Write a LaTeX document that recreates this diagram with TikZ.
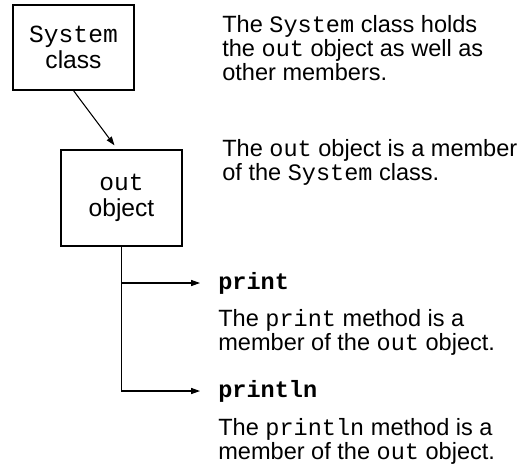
\documentclass[tikz,border=0pt]{standalone}
\usepackage{fontspec}
\setmainfont{Liberation Sans}
\setmonofont{Liberation Mono}
\usetikzlibrary{arrows.meta}

\tikzset{
  membox/.style={draw, line width=0.7pt, minimum width=2.42cm, align=center, inner sep=0pt,
    font=\fontsize{14}{14.5}\selectfont},
  note/.style={anchor=base west, align=left, inner sep=0pt},
  methname/.style={anchor=west, inner sep=0pt, font=\fontsize{13.4}{13.6}\selectfont\ttfamily\bfseries},
  link/.style={line width=0.6pt, -{Triangle[length=5pt,width=3.4pt]}}
}

\begin{document}
\begin{tikzpicture}[x=0.02cm, y=-0.02cm, font=\fontsize{13.4}{13.6}\selectfont]
    \useasboundingbox (0,0) rectangle (523,468);
    % boxes
    \node [membox, minimum height=1.7cm] (sys) at (73.5,47.5) {\texttt{System}\\class};
    \node [membox, minimum height=1.92cm] (out) at (121.5,198) {\texttt{out}\\object};
    % notes on the right (base = last line)
    \node [note] (sysnote) at (222,80) {The \texttt{System} class holds\\the \texttt{out} object as well as\\other members.};
    \node [note] (outnote) at (222,180) {The \texttt{out} object is a member\\of the \texttt{System} class.};
    \node [methname] (prt) at (218,283) {print};
    \node [note] (prtnote) at (218,350) {The \texttt{print} method is a\\member of the \texttt{out} object.};
    \node [methname] (prtln) at (218,391) {println};
    \node [note] (prtlnnote) at (218,459) {The \texttt{println} method is a\\member of the \texttt{out} object.};
    % connectors
    \draw [link] (sys.south) -- ([xshift=-0.14cm, yshift=0.08cm]out.north);
    \draw [link] (out.south) |- ([xshift=-0.36cm]prtln.west);
    \draw [link] (out.south |- prt.west) -- ([xshift=-0.36cm]prt.west);
  \end{tikzpicture}
\end{document}
